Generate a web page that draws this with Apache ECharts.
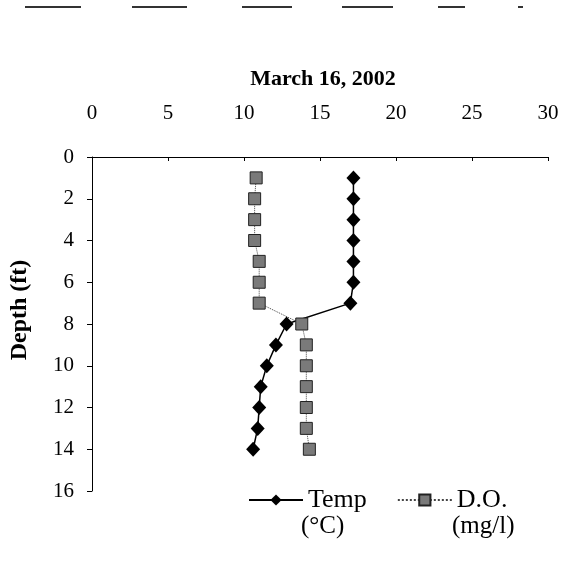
<!DOCTYPE html>
<html><head><meta charset="utf-8">
<script src="https://cdn.jsdelivr.net/npm/echarts@6/dist/echarts.min.js"></script>
<style>html,body{margin:0;padding:0;background:#fff}#c{width:585px;height:563px}</style>
</head><body><div id="c"></div>
<script>
const depths = [1,2,3,4,5,6,7,8,9,10,11,12,13,14];
const tempC = [17.2,17.2,17.2,17.2,17.2,17.2,17.0,12.8,12.1,11.5,11.1,11.0,10.9,10.6];
const doMgL = [10.8,10.7,10.7,10.7,11.0,11.0,11.0,13.8,14.1,14.1,14.1,14.1,14.1,14.3];
const titleText = 'March 16, 2002';
const yName = 'Depth (ft)';
const seriesNames = ['Temp', 'D.O.'];
const unitLines = ['(°C)', '(mg/l)'];

const serif = '"Liberation Serif", "Times New Roman", serif';
// scan artifact dashes along the top edge of the page
const topDashes = [[25,81],[132,187],[242,292],[342,393],[438,465],[518,523]];

const chart = echarts.init(document.getElementById('c'));
chart.setOption({
  animation: false,
  backgroundColor: '#fff',
  title: { text: titleText, left: 318, top: 63, textAlign: 'center',
    textStyle: { fontFamily: serif, fontWeight: 'bold', fontSize: 22, color: '#000' } },
  grid: { left: 92, right: 37, top: 157, bottom: 72, containLabel: false, outerBoundsMode: 'none' },
  xAxis: { type: 'value', position: 'top', min: 0, max: 30, interval: 5,
    axisLine: { show: true, lineStyle: { color: '#000', width: 1 } },
    axisTick: { show: true, inside: true, length: 4, lineStyle: { color: '#000' } },
    axisLabel: { fontFamily: serif, fontSize: 21, color: '#000', margin: 33 },
    splitLine: { show: false } },
  yAxis: { type: 'value', inverse: true, min: 0, max: 16, interval: 2,
    name: yName, nameLocation: 'middle', nameGap: 60, nameRotate: 90,
    nameTextStyle: { fontFamily: serif, fontWeight: 'bold', fontSize: 24, color: '#000',
      padding: [0, 0, 0, 28] },
    axisLine: { show: true, lineStyle: { color: '#000', width: 1 } },
    axisTick: { show: true, length: 5, lineStyle: { color: '#000' } },
    axisLabel: { fontFamily: serif, fontSize: 21, color: '#000', margin: 18 },
    splitLine: { show: false } },
  legend: { left: 243, top: 482, itemWidth: 54, itemHeight: 14, itemGap: 30,
    textStyle: { fontFamily: serif, fontSize: 26, color: '#000' },
    data: seriesNames },
  graphic: [
    { type: 'text', left: 301, top: 514, style: { text: unitLines[0], font: '25px ' + serif, fill: '#000' } },
    { type: 'text', left: 452, top: 514, style: { text: unitLines[1], font: '25px ' + serif, fill: '#000' } }
  ].concat(topDashes.map(d => ({ type: 'line', shape: { x1: d[0], y1: 7, x2: d[1], y2: 7 },
      style: { stroke: '#333', lineWidth: 2 } }))),
  series: [
    { name: seriesNames[0], type: 'line', data: tempC.map((v, i) => [v, depths[i]]),
      symbol: 'diamond', symbolSize: [14, 15],
      lineStyle: { color: '#000', width: 1.5 },
      itemStyle: { color: '#000' } },
    { name: seriesNames[1], type: 'line', data: doMgL.map((v, i) => [v, depths[i]]),
      symbol: 'rect', symbolSize: 12,
      lineStyle: { color: '#444', width: 1, type: 'dotted' },
      itemStyle: { color: '#7a7a7a', borderColor: '#222', borderWidth: 1 } }
  ]
});
</script></body></html>
